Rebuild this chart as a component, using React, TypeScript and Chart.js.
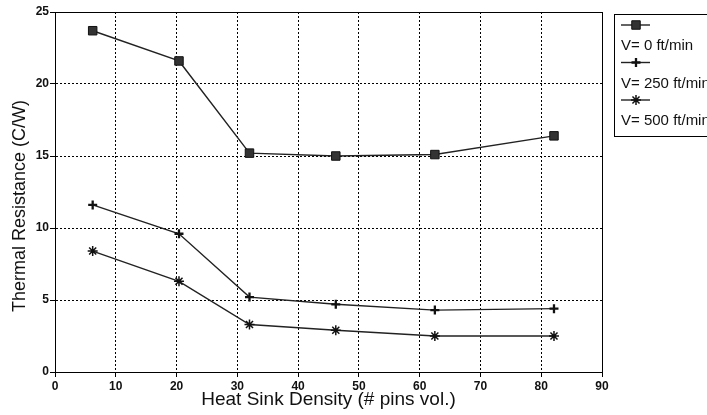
import React, { useEffect, useRef } from 'react';
import { Chart, registerables } from 'chart.js';
import { drawPoint } from 'chart.js/helpers';

Chart.register(...registerables);

// ---- data ----
const density = [6.2, 20.4, 32.0, 46.2, 62.5, 82.1];
const resistanceV0 = [23.7, 21.6, 15.2, 15.0, 15.1, 16.4];
const resistanceV250 = [11.6, 9.6, 5.2, 4.7, 4.3, 4.4];
const resistanceV500 = [8.4, 6.3, 3.3, 2.9, 2.5, 2.5];
const seriesLabels = ['V= 0 ft/min', 'V= 250 ft/min', 'V= 500 ft/min'];
const xRange = [0, 90];
const xStep = 10;
const yRange = [0, 25];
const yStep = 5;
const xTitle = 'Heat Sink Density (# pins vol.)';
const yTitle = 'Thermal Resistance (C/W)';

const FONT = "'Liberation Sans', Arial, Helvetica, sans-serif";

const pointStyles = ['rect', 'cross', 'star'];
const pointRadii = [6, 4.5, 5];
const pointBorderWidths = [1, 2.3, 1.5];

const framePlugin = {
  id: 'frameAndLegend',
  afterDraw(chart: any) {
    const { ctx, chartArea } = chart;
    ctx.save();
    // solid frame on top and right
    ctx.strokeStyle = '#000';
    ctx.lineWidth = 1;
    ctx.beginPath();
    const l = Math.round(chartArea.left) + 0.5;
    const r = Math.round(chartArea.right) + 0.5;
    const t = Math.round(chartArea.top) + 0.5;
    const b = Math.round(chartArea.bottom) + 0.5;
    ctx.moveTo(l, t);
    ctx.lineTo(r, t);
    ctx.lineTo(r, b);
    ctx.stroke();

    // y axis title
    ctx.save();
    ctx.translate(20.5, 206);
    ctx.rotate(-Math.PI / 2);
    ctx.font = `18px ${FONT}`;
    ctx.fillStyle = '#111';
    ctx.textAlign = 'center';
    ctx.textBaseline = 'middle';
    ctx.fillText(yTitle, 0, 0);
    ctx.restore();

    // legend
    ctx.strokeStyle = '#000';
    ctx.lineWidth = 1;
    ctx.strokeRect(614.5, 14.5, 130, 122);
    chart.data.datasets.forEach((ds: any, i: number) => {
      const my = 25 + i * 37.5;
      ctx.strokeStyle = '#222';
      ctx.lineWidth = 1.4;
      ctx.beginPath();
      ctx.moveTo(621, my);
      ctx.lineTo(650, my);
      ctx.stroke();
      ctx.fillStyle = ds.pointBackgroundColor;
      ctx.strokeStyle = ds.pointBorderColor;
      ctx.lineWidth = ds.pointBorderWidth;
      drawPoint(ctx, { pointStyle: ds.pointStyle, radius: ds.pointRadius, borderWidth: ds.pointBorderWidth, rotation: 0 }, 636, my);
      ctx.fillStyle = '#111';
      ctx.font = `15px ${FONT}`;
      ctx.textAlign = 'left';
      ctx.textBaseline = 'alphabetic';
      ctx.fillText(ds.label, 621, 50 + i * 37.5);
    });
    ctx.restore();
  },
};

export default function App() {
  const canvasRef = useRef<HTMLCanvasElement | null>(null);

  useEffect(() => {
    const canvas = canvasRef.current;
    if (!canvas) return;
    const series = [resistanceV0, resistanceV250, resistanceV500];
    const chart = new Chart(canvas, {
      type: 'line',
      data: {
        datasets: series.map((vals, i) => ({
          label: seriesLabels[i],
          data: density.map((x, j) => ({ x, y: vals[j] })),
          borderColor: '#222',
          borderWidth: 1.4,
          tension: 0,
          fill: false,
          pointStyle: pointStyles[i],
          pointRadius: pointRadii[i],
          pointBorderWidth: pointBorderWidths[i],
          pointBackgroundColor: '#333',
          pointBorderColor: '#111',
        })),
      },
      options: {
        responsive: false,
        animation: false,
        events: [],
        layout: { padding: { top: 12, right: 105, left: 0, bottom: 0 } },
        plugins: {
          legend: { display: false },
          tooltip: { enabled: false },
          title: { display: false },
        },
        scales: {
          x: {
            type: 'linear',
            min: xRange[0],
            max: xRange[1],
            afterFit: (s: any) => { s.height = 43; },
            ticks: {
              stepSize: xStep,
              color: '#111',
              font: { family: FONT, size: 12, weight: 'bold' },
              padding: 2,
              maxRotation: 0,
            },
            grid: {
              color: '#000',
              lineWidth: 1,
              tickLength: 5,
              tickColor: '#000',
              tickBorderDash: [],
            },
            border: { display: true, color: '#000', width: 1, dash: [2, 2] },
            title: {
              display: true,
              text: xTitle,
              color: '#111',
              font: { family: FONT, size: 19 },
              padding: { top: 0, bottom: 3.5 },
            },
          },
          y: {
            type: 'linear',
            min: yRange[0],
            max: yRange[1],
            afterFit: (s: any) => { s.width = 55; },
            ticks: {
              stepSize: yStep,
              color: '#111',
              font: { family: FONT, size: 12, weight: 'bold' },
              padding: 1,
            },
            grid: {
              color: '#000',
              lineWidth: 1,
              tickLength: 5,
              tickColor: '#000',
              tickBorderDash: [],
            },
            border: { display: true, color: '#000', width: 1, dash: [2, 2] },
          },
        },
      },
      plugins: [framePlugin],
    } as any);
    return () => chart.destroy();
  }, []);

  return (
    <div style={{ position: 'absolute', left: 0, top: 0, width: 707, height: 415, background: '#fff' }}>
      <canvas ref={canvasRef} width={707} height={415} style={{ display: 'block' }} />
    </div>
  );
}
